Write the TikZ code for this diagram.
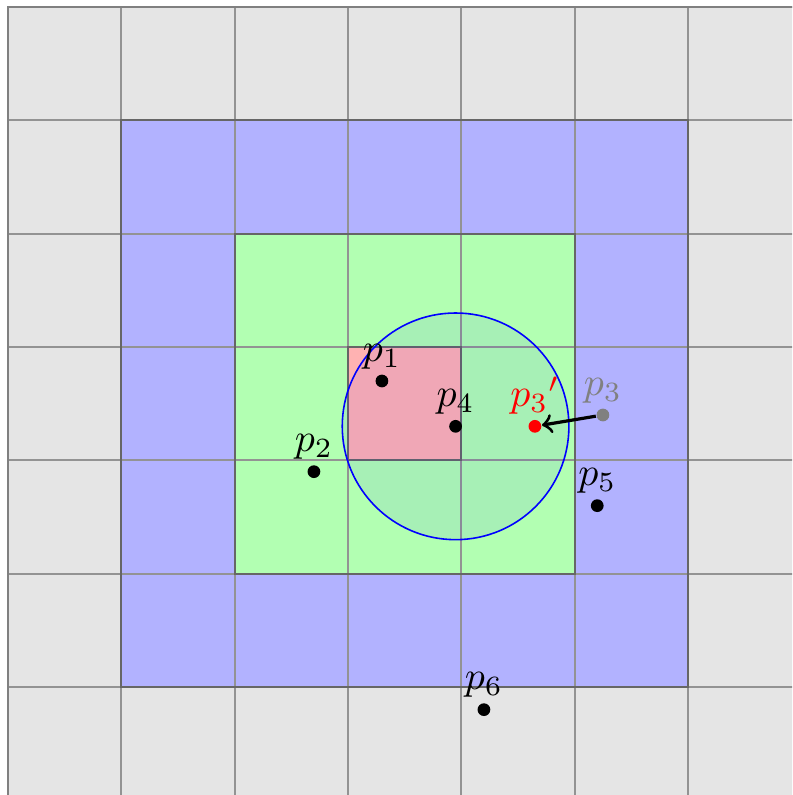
\documentclass[tikz,border=0pt]{standalone}
\usepackage{amsmath,amssymb}
\usepackage{xcolor}
\usepackage{tikz}
\usetikzlibrary{arrows,positioning,calc}

\begin{document}
\begin{tikzpicture}[
    gridline/.style={gray!85, line width=0.5pt},
    region/.style={black!60, line width=0.5pt},
    pt/.style={circle, fill=black, inner sep=0pt, minimum size=3.2pt},
    every label/.style={inner sep=1pt},
    label distance=0pt]
    \useasboundingbox (-0.07,0.047) rectangle (6.92,7.062);
    \clip (-0.07,0.047) rectangle (6.92,7.062);

    % Cells
    \fill[gray!20] (0,0) rectangle (7,7);
    \fill[blue!30] (1,1) rectangle (6,6);
    \fill[green!30] (2,2) rectangle (5,5);
    \fill[red!30] (3,3) rectangle (4,4);

    % Grid
    \draw[gridline] (0,0) grid (7,7);
    \draw[gridline, black!50] (0,0) rectangle (7,7);

    % Borders of the neighbourhoods
    \draw[region] (1,1) rectangle (6,6);
    \draw[region] (2,2) rectangle (5,5);
    \draw[region] (3,3) rectangle (4,4);

    % Search radius round p4
    \draw[blue, fill=blue, fill opacity=0.06] (3.95,3.30) circle (1);

    % Points
    \node[pt, label=above:$p_1$] (p1) at (3.30,3.70) {};
    \node[pt, label=above:$p_2$] (p2) at (2.70,2.90) {};
    \node[pt, gray, label={[gray]above:$p_3$}] (p3) at (5.25,3.40) {};
    \node[pt, red, label={[red]above:${p_3}'$}] (p3m) at (4.65,3.30) {};
    \node[pt, label=above:$p_4$] (p4) at (3.95,3.30) {};
    \node[pt, label=above:$p_5$] (p5) at (5.20,2.60) {};
    \node[pt, label=above:$p_6$] (p6) at (4.20,0.80) {};

    % Moved point
    \draw[->, thick] (p3) -- (p3m);
\end{tikzpicture}
\end{document}
